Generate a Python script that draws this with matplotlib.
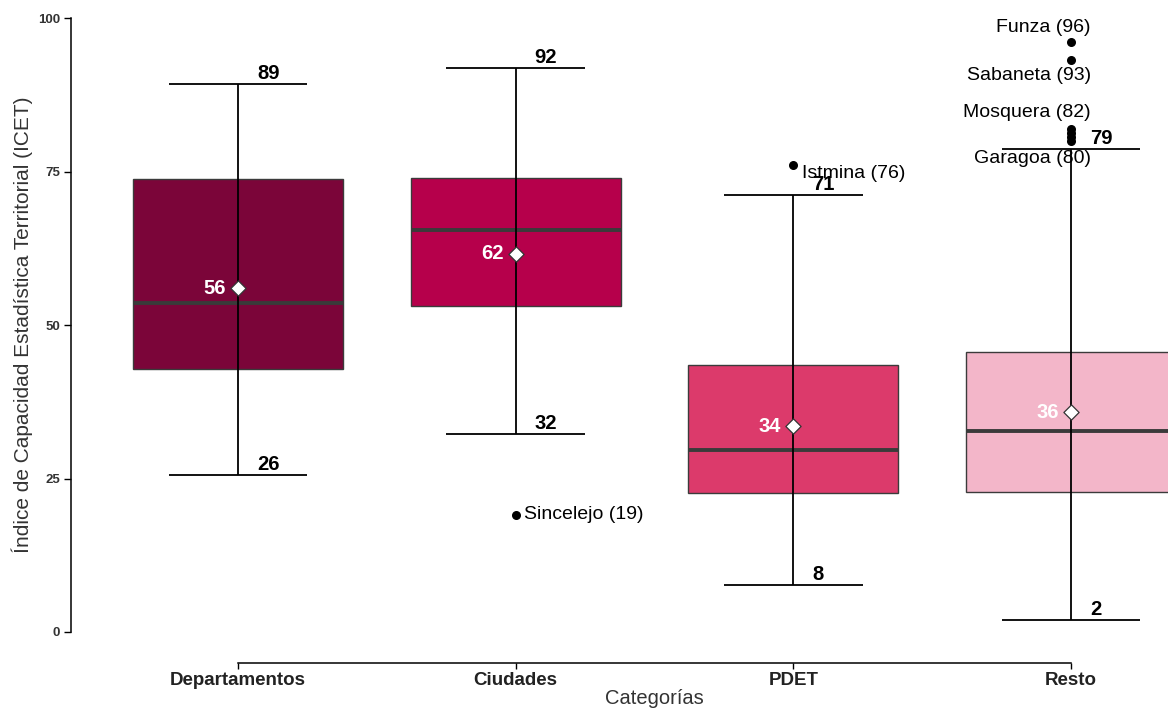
import matplotlib
matplotlib.use("Agg")
import matplotlib.pyplot as plt

plt.rcParams['font.family'] = ['Liberation Sans', 'DejaVu Sans']

# data
categorias = ['Departamentos', 'Ciudades', 'PDET', 'Resto']
q1 = [42.9, 53.1, 22.7, 22.8]
mediana = [53.6, 65.4, 29.6, 32.7]
q3 = [73.7, 74.0, 43.5, 45.6]
media = [56.0, 61.6, 33.5, 35.8]
bigote_min = [25.5, 32.2, 7.6, 2.0]
bigote_max = [89.3, 91.9, 71.2, 78.7]
colores = ['#7B0539', '#B6004B', '#DC3A6B', '#F3B6C9']

# outliers: category index, value, label
atipicos_cat = [1, 2, 3, 3, 3, 3, 3, 3]
atipicos_val = [19.1, 76.1, 96.1, 93.2, 82.0, 81.3, 80.6, 80.0]
atipicos_lab = ['Sincelejo (19)', 'Istmina (76)', 'Funza (96)', 'Sabaneta (93)',
                'Mosquera (82)', None, None, 'Garagoa (80)']

# label placement (pixel offsets, alignment) for the outlier names
lab_style = {
    'Sincelejo (19)': ((8, 0), 'left'),
    'Istmina (76)': ((9, -9), 'left'),
    'Funza (96)': ((20, 14), 'right'),
    'Sabaneta (93)': ((20, -16), 'right'),
    'Mosquera (82)': ((20, 16), 'right'),
    'Garagoa (80)': ((20, -18), 'right'),
}

W, H = 1168, 713
fig = plt.figure(figsize=(W / 100, H / 100), dpi=100)
# panel is wider/taller than the saved image (cropped like the original)
ax = fig.add_axes([71.4 / W, (H - 662.7) / H, 1166.2 / W, 675.4 / H])
ax.set_xlim(-0.6, 3.6)
ax.set_ylim(-5, 105)

pos = list(range(len(categorias)))
stats = []
for i in pos:
    stats.append(dict(med=mediana[i], q1=q1[i], q3=q3[i],
                      whislo=q1[i], whishi=q3[i], fliers=[]))

bp = ax.bxp(stats, positions=pos, widths=0.756, patch_artist=True,
            showcaps=False, showfliers=False, zorder=2,
            boxprops=dict(edgecolor='#3b3b3b', linewidth=1.0),
            medianprops=dict(color='#3a3a3a', linewidth=2.8, solid_capstyle='butt'),
            whiskerprops=dict(linewidth=0))
for patch, c in zip(bp['boxes'], colores):
    patch.set_facecolor(c)

# whiskers drawn as full error bars over the boxes
ax.vlines(pos, bigote_min, bigote_max, color='black', linewidth=1.3, zorder=3)
for i in pos:
    ax.hlines([bigote_min[i], bigote_max[i]], i - 0.25, i + 0.25,
              color='black', linewidth=1.3, zorder=3)
    for v in (bigote_min[i], bigote_max[i]):
        ax.annotate(f'{v:.0f}', (i, v), xytext=(19, 1), textcoords='offset pixels',
                    ha='left', va='bottom', fontsize=14.5, fontweight='bold',
                    color='black', zorder=5)

# mean diamonds and labels
ax.scatter(pos, media, marker='D', s=60, facecolor='white', edgecolor='#333333',
           linewidth=0.9, zorder=6)
for i in pos:
    ax.annotate(f'{media[i]:.0f}', (i, media[i]), xytext=(-12, 0),
                textcoords='offset pixels', ha='right', va='center',
                fontsize=14.5, fontweight='bold', color='white', zorder=6)

# outliers
ax.scatter(atipicos_cat, atipicos_val, s=30, color='black', zorder=6)
for c, v, lab in zip(atipicos_cat, atipicos_val, atipicos_lab):
    if lab is None:
        continue
    off, ha = lab_style[lab]
    ax.annotate(lab, (c, v), xytext=off, textcoords='offset pixels',
                ha=ha, va='center', fontsize=14, color='black', zorder=7)

# axes styling (bracket-like axis lines)
for s in ['top', 'right']:
    ax.spines[s].set_visible(False)
ax.spines['left'].set_bounds(0, 100)
ax.spines['bottom'].set_bounds(0, 3)
ax.spines['left'].set_linewidth(1.1)
ax.spines['bottom'].set_linewidth(1.1)

ax.set_yticks([0, 25, 50, 75, 100])
ax.set_xticks(pos)
ax.set_xticklabels(categorias)
ax.tick_params(axis='y', labelsize=9.5, length=5, width=1, colors='black',
               labelcolor='#333333', pad=3)
ax.tick_params(axis='x', labelsize=13.5, length=4, width=1, labelcolor='#222222', pad=3)
for t in ax.get_yticklabels() + ax.get_xticklabels():
    t.set_fontweight('bold')

ax.set_ylabel('Índice de Capacidad Estadística Territorial (ICET)', fontsize=15,
              color='#333333')
ax.yaxis.set_label_coords(-0.033, 0.5)
ax.set_xlabel('Categorías', fontsize=14.5, color='#333333', labelpad=0)

fig.savefig('out.png', dpi=100)
